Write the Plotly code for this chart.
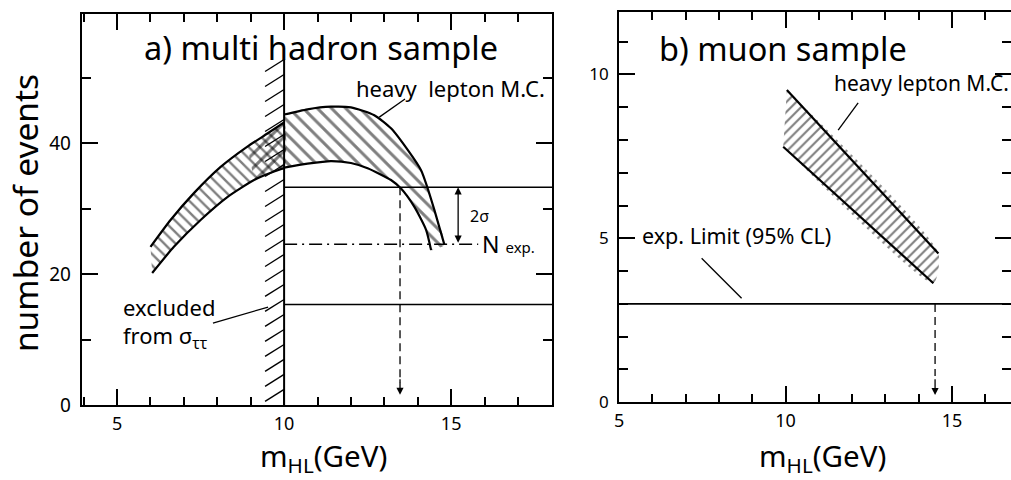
import plotly.graph_objects as go

FONT = "Noto Sans"

# ---- a) multi hadron sample -------------------------------------------
# heavy lepton M.C. band below the tau threshold (x < 10 GeV)
band_lo_x_up = [6.0, 6.6, 7.3, 8.1, 8.9, 9.5, 10.0]
band_lo_up = [24.2, 28.3, 32.4, 36.4, 39.5, 41.5, 43.2]
band_lo_x_dn = [6.05, 6.7, 7.5, 8.3, 9.1, 9.7, 10.0]
band_lo_dn = [20.2, 24.2, 28.3, 31.8, 34.4, 35.7, 36.2]

# heavy lepton M.C. band above 10 GeV
band_hi_x_up = [10.0, 10.7, 11.4, 12.0, 12.7, 13.2, 13.7, 14.1, 14.3, 14.5, 14.8]
band_hi_up = [44.4, 45.2, 45.6, 45.5, 44.3, 42.3, 39.0, 35.9, 33.1, 29.8, 24.5]
band_hi_x_dn = [10.0, 10.7, 11.4, 12.0, 12.5, 13.2, 13.5, 13.9, 14.25, 14.4]
band_hi_dn = [36.3, 36.9, 37.3, 37.0, 36.2, 34.4, 33.1, 30.3, 26.8, 23.7]

n_exp = 24.6          # expected number of events
n_exp_2sigma = 33.3   # N exp + 2 sigma
lower_level = 15.4
threshold_mass = 10.0
threshold_top = 52.8
mass_limit_a = 13.47

# ---- b) muon sample ---------------------------------------------------
mu_x_up = [10.04, 14.59]
mu_up = [9.52, 4.54]
mu_x_dn = [9.93, 14.44]
mu_dn = [7.79, 3.63]
mu_limit = 3.0        # exp. limit (95% CL)
mass_limit_b = 14.49

# axis settings
xa_range = [3.94, 18.02]
ya_range = [0, 59.75]
xb_range = [5.0, 16.77]
yb_range = [0, 11.9]

fig = go.Figure()

BLACK = "black"


def hatch(xs, ys, shape, size, xaxis, yaxis):
    fig.add_trace(go.Scatter(
        x=xs, y=ys, mode="lines", fill="toself",
        line=dict(width=0, shape="spline", smoothing=0.6),
        fillcolor="rgba(0,0,0,0)",
        fillpattern=dict(shape=shape, size=size, solidity=0.3,
                         fgcolor=BLACK, bgcolor="rgba(0,0,0,0)"),
        xaxis=xaxis, yaxis=yaxis, hoverinfo="skip", showlegend=False))


def band(xu, yu, xd, yd, shape, size, xaxis, yaxis):
    # hatched fill of a band bounded by two curves, plus its outline
    hatch(xu + xd[::-1], yu + yd[::-1], shape, size, xaxis, yaxis)
    for xs, ys in ((xu, yu), (xd, yd)):
        fig.add_trace(go.Scatter(
            x=xs, y=ys, mode="lines",
            line=dict(color=BLACK, width=2.2, shape="spline", smoothing=0.6),
            xaxis=xaxis, yaxis=yaxis, hoverinfo="skip", showlegend=False))


def line(xs, ys, xaxis, yaxis, width=1.5, dash=None):
    fig.add_trace(go.Scatter(
        x=xs, y=ys, mode="lines",
        line=dict(color=BLACK, width=width, dash=dash),
        xaxis=xaxis, yaxis=yaxis, hoverinfo="skip", showlegend=False))


# panel a
band(band_lo_x_up, band_lo_up, band_lo_x_dn, band_lo_dn, "\\", 8, "x", "y")
band(band_hi_x_up, band_hi_up, band_hi_x_dn, band_hi_dn, "\\", 10, "x", "y")
# cross-hatched part of the lower band next to the threshold
hatch(band_lo_x_up[-3:] + band_lo_x_dn[-3:][::-1],
      band_lo_up[-3:] + band_lo_dn[-3:][::-1], "/", 10, "x", "y")

# threshold wall at 10 GeV with hatching on the excluded side
line([threshold_mass, threshold_mass], [0, threshold_top], "x", "y", width=2)
hx, hy = [], []
step, rise, width = 2.29, 1.83, 0.57
yy = threshold_top
while yy - rise > 0:
    hx += [threshold_mass - width, threshold_mass, None]
    hy += [yy - rise, yy, None]
    yy -= step
line(hx, hy, "x", "y", width=1.4)

line([threshold_mass, xa_range[1]], [n_exp_2sigma, n_exp_2sigma], "x", "y")
line([threshold_mass, xa_range[1]], [lower_level, lower_level], "x", "y")
line([threshold_mass, 15.81], [n_exp, n_exp], "x", "y", width=1.5,
     dash="13px,5px,2px,5px")
line([mass_limit_a, mass_limit_a], [n_exp_2sigma, 3.5], "x", "y",
     width=1.3, dash="8px,5px")

# panel b
band(mu_x_up, mu_up, mu_x_dn, mu_dn, "/", 7, "x2", "y2")
line([xb_range[0], xb_range[1]], [mu_limit, mu_limit], "x2", "y2", width=1.6)
line([mass_limit_b, mass_limit_b], [mu_limit, 0.8], "x2", "y2",
     width=1.3, dash="8px,5px")

annotations = []


def text(x, y, s, size, xref="x", yref="y", anchor="left", **kw):
    annotations.append(dict(x=x, y=y, xref=xref, yref=yref, text=s,
                            showarrow=False, xanchor=anchor, yanchor="middle",
                            font=dict(family=FONT, size=size, color=BLACK),
                            **kw))


def arrow(x, y, ax, ay, xref, yref, both=False):
    annotations.append(dict(x=x, y=y, ax=ax, ay=ay, xref=xref, yref=yref,
                            axref=xref, ayref=yref, text="", showarrow=True,
                            arrowhead=2, arrowsize=1.1, arrowwidth=1.3,
                            arrowcolor=BLACK,
                            arrowside="end+start" if both else "end",
                            startarrowhead=2, startarrowsize=1.1))


def leader(x0, y0, x1, y1, xref, yref):
    fig.add_shape(type="line", x0=x0, y0=y0, x1=x1, y1=y1, xref=xref,
                  yref=yref, line=dict(color=BLACK, width=1.3))


# panel a labels
text(5.75, 54.7, "a) multi hadron sample", 32.5)
text(12.08, 48.4, "heavy&nbsp; lepton M.C.", 22)
leader(13.62, 46.76, 12.85, 44.0, "x", "y")
text(15.5, 28.9, "2σ", 16)
arrow(15.21, n_exp_2sigma, 15.21, n_exp, "x", "y", both=True)
text(15.86, n_exp, "N <span style='font-size:15px'>exp.</span>", 23)
text(5.12, 15.0, "excluded", 22)
text(5.12, 10.4, "from σ<sub>ττ</sub>", 22)
leader(7.87, 12.56, 9.52, 15.0, "x", "y")
arrow(mass_limit_a, 1.6, mass_limit_a, 4.2, "x", "y")

# panel b labels
text(6.14, 10.8, "b) muon sample", 32.5, xref="x2", yref="y2")
text(11.40, 9.73, "heavy lepton M.C.", 21, xref="x2", yref="y2")
leader(12.18, 9.13, 11.58, 8.30, "x2", "y2")
text(5.63, 5.1, "exp. Limit (95% CL)", 21.5, xref="x2", yref="y2")
leader(7.48, 4.39, 8.68, 3.17, "x2", "y2")
arrow(mass_limit_b, 0.22, mass_limit_b, 0.75, "x2", "y2")

# axis titles
text(0.0247, 0.556, "number of events", 33.5, xref="paper", yref="paper",
     anchor="center", textangle=-90)
text(0.3195, 0.048, "m<sub>HL</sub>(GeV)", 29.5, xref="paper", yref="paper",
     anchor="center")
text(0.814, 0.048, "m<sub>HL</sub>(GeV)", 29.5, xref="paper", yref="paper",
     anchor="center")

fig.update_layout(annotations=annotations)


def xaxis(domain, rng, anchor):
    return dict(domain=domain, range=rng, anchor=anchor, showgrid=False,
                zeroline=False, showline=True, linecolor=BLACK, linewidth=2,
                mirror="ticks", ticks="inside", ticklen=16, tickwidth=1.6,
                tickcolor=BLACK, tickvals=[5, 10, 15], ticklabelstandoff=1,
                automargin=False,
                minor=dict(dtick=1, tick0=0, ticks="inside", ticklen=8,
                           tickwidth=1.6, tickcolor=BLACK),
                tickfont=dict(family=FONT, size=18, color=BLACK))


def yaxis(domain, rng, anchor, vals, minor_step, size):
    return dict(domain=domain, range=rng, anchor=anchor, showgrid=False,
                zeroline=False, showline=True, linecolor=BLACK, linewidth=2,
                mirror="ticks", ticks="inside", ticklen=16, tickwidth=1.6,
                tickcolor=BLACK, tickvals=vals, ticklabelstandoff=5,
                automargin=False,
                minor=dict(dtick=minor_step, tick0=0, ticks="inside",
                           ticklen=9, tickwidth=1.6, tickcolor=BLACK),
                tickfont=dict(family=FONT, size=size, color=BLACK))


fig.update_layout(
    width=1011, height=480, autosize=False,
    margin=dict(l=0, r=0, t=0, b=0, pad=0, autoexpand=False),
    paper_bgcolor="white", plot_bgcolor="white",
    showlegend=False,
    xaxis=xaxis([0.0808, 0.5460], xa_range, "y"),
    yaxis=yaxis([0.1556, 0.9708], ya_range, "x", [0, 20, 40], 10, 19),
    xaxis2=xaxis([0.6123, 1.0], xb_range, "y2"),
    yaxis2=yaxis([0.1619, 0.975], yb_range, "x2", [0, 5, 10], 1, 17),
)

fig.write_html("out.html")
